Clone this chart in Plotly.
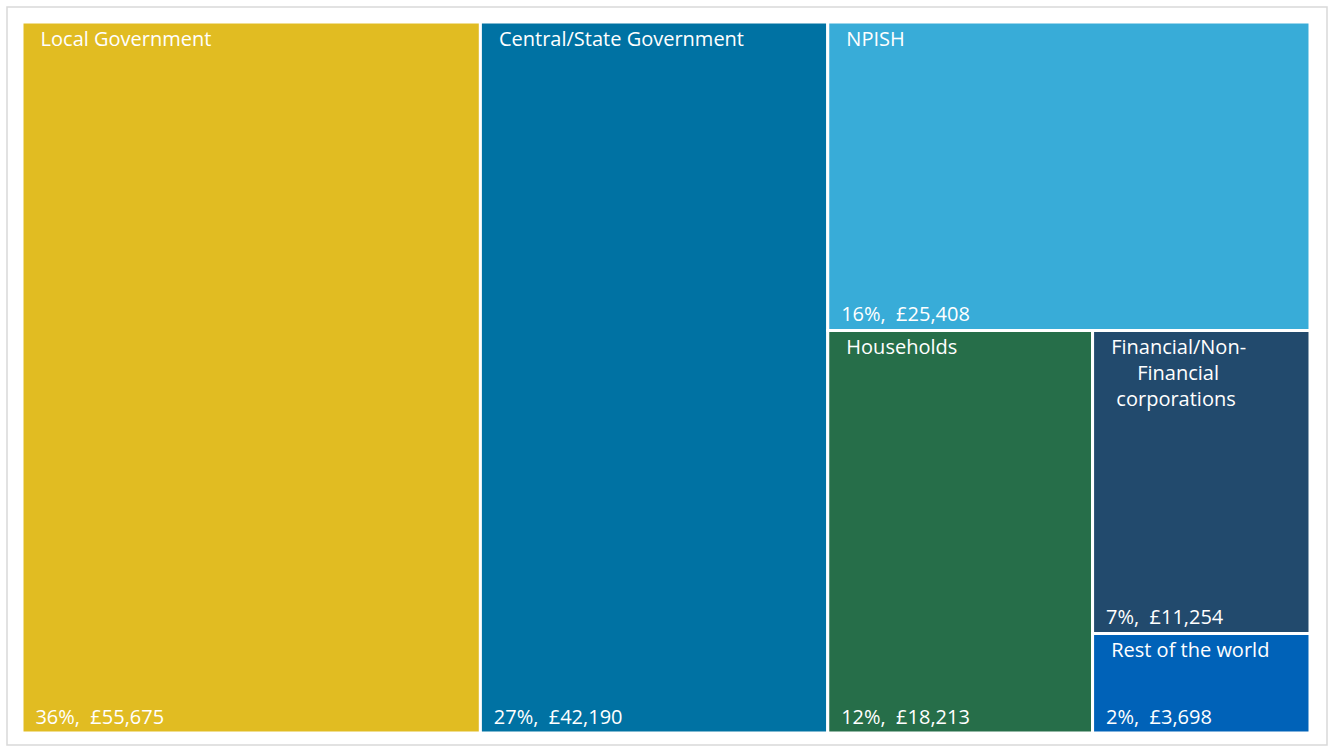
import plotly.graph_objects as go

# Spending by sector (£)
sectors = ["Local Government", "Central/State Government", "NPISH", "Households",
           "Financial/Non-Financial corporations", "Rest of the world"]
label_lines = [["Local Government"], ["Central/State Government"], ["NPISH"], ["Households"],
               ["Financial/Non-", "Financial", "corporations"], ["Rest of the world"]]
amounts = [55675, 42190, 25408, 18213, 11254, 3698]
colors = ["#E1BC22", "#0072A3", "#38ACD8", "#266E49", "#224A6D", "#0062B8"]

nb = "\u00a0"
total = sum(amounts)
value_text = [f"{nb * 2}{round(100 * v / total)}%,{nb * 2}£{v:,}" for v in amounts]

# indent each line of a name; the multi-line name is centred line by line
indents = [[3], [3], [3], [3], [3, 8, 4], [3]]
name_text = ["<br>".join(nb * n + line for n, line in zip(ind, lines))
             for ind, lines in zip(indents, label_lines)]

W, H = 1330, 746
ml, mr, mt, mb = 22, 20, 22, 13
FONT = dict(family="Open Sans", size=20, color="white")

common = dict(
    labels=sectors,
    parents=[""] * len(sectors),
    values=amounts,
    sort=True,
    tiling=dict(packing="squarify", squarifyratio=1, pad=0),
    pathbar=dict(visible=False),
    root=dict(color="rgba(0,0,0,0)"),
)

fig = go.Figure()
# tiles with sector names in the top-left corner
fig.add_trace(go.Treemap(
    **common,
    text=name_text,
    texttemplate="%{text}",
    textposition="top left",
    textfont=FONT,
    marker=dict(colors=colors, line=dict(color="white", width=3),
                pad=dict(t=0, l=0, r=0, b=0)),
    hoverinfo="skip",
))
# overlay carrying the share and amount in the bottom-left corner
fig.add_trace(go.Treemap(
    **common,
    text=value_text,
    texttemplate="%{text}",
    textposition="bottom left",
    textfont=FONT,
    marker=dict(colors=["rgba(0,0,0,0)"] * len(sectors),
                line=dict(color="rgba(0,0,0,0)", width=0),
                pad=dict(t=0, l=0, r=0, b=0)),
    hovertemplate="%{label}<br>£%{value:,}<extra></extra>",
))

pw, ph = W - ml - mr, H - mt - mb
fig.add_shape(type="rect", xref="paper", yref="paper",
              x0=(7 - ml) / pw, x1=(1327 - ml) / pw,
              y0=-(745 - (H - mb)) / ph, y1=1 + (mt - 7) / ph,
              line=dict(color="#D9D9D9", width=1.5), fillcolor="rgba(0,0,0,0)", layer="below")

fig.update_layout(
    width=W, height=H,
    margin=dict(l=ml, r=mr, t=mt, b=mb),
    paper_bgcolor="white",
    plot_bgcolor="white",
    showlegend=False,
)

fig.write_html("out.html")
